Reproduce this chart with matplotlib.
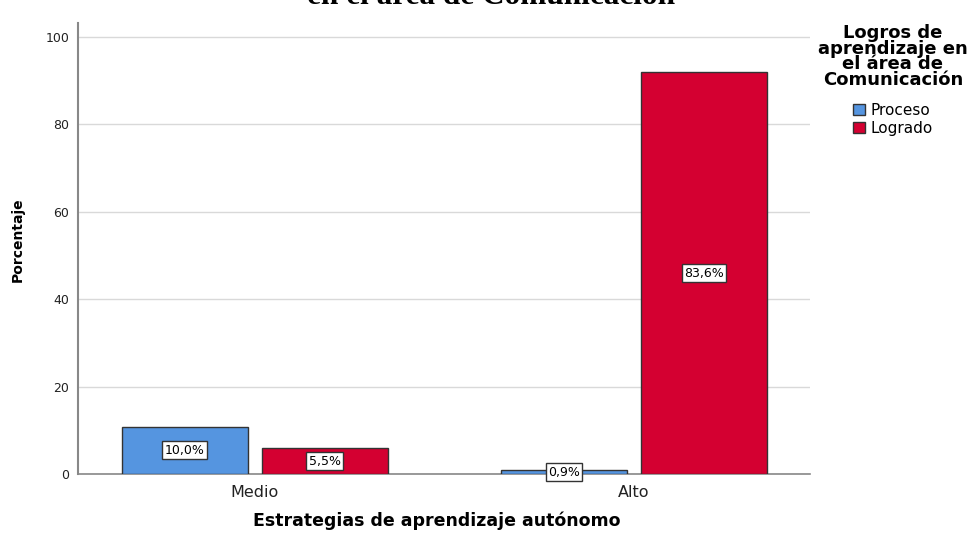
import matplotlib
matplotlib.use("Agg")
import matplotlib.pyplot as plt
import numpy as np

categories = ["Medio", "Alto"]
series_names = ["Proceso", "Logrado"]
proceso_heights = [10.9, 1.0]
logrado_heights = [6.0, 92.0]
proceso_labels = ["10,0%", "0,9%"]
logrado_labels = ["5,5%", "83,6%"]
yticks = [0, 20, 40, 60, 80, 100]

colors = ["#5595e0", "#d40031"]

fig = plt.figure(figsize=(9.67, 5.35), dpi=100)
ax = fig.add_axes([0.0804, 0.1135, 0.7573, 0.843])

x = np.arange(len(categories))
w = 0.3325
off = 0.1847
series = [(proceso_heights, proceso_labels), (logrado_heights, logrado_labels)]
bars_all = []
for i, (h, labs) in enumerate(series):
    pos = x + (off if i else -off)
    bars = ax.bar(pos, h, width=w, color=colors[i], edgecolor="#333333",
                  linewidth=1.0, label=series_names[i], zorder=3)
    bars_all.append(bars)
    for b, lab in zip(bars, labs):
        ax.text(b.get_x() + b.get_width() / 2, b.get_height() / 2, lab,
                ha="center", va="center", fontsize=9, color="black", zorder=5,
                bbox=dict(boxstyle="square,pad=0.2", facecolor="white",
                          edgecolor="#333333", linewidth=1.0))

ax.set_xlim(-0.4675, 1.4646)
ax.set_ylim(0, 103.1)
ax.set_xticks(x)
ax.set_xticklabels(categories, fontsize=11.5, color="#222222")
ax.set_yticks(yticks)
ax.set_yticklabels([str(v) for v in yticks], fontsize=9, color="#222222")
ax.tick_params(axis="both", length=0)
ax.tick_params(axis="x", pad=8)
ax.tick_params(axis="y", pad=6)
ax.grid(axis="y", color="#d9d9d9", linewidth=1.0, zorder=0)
for s in ["top", "right"]:
    ax.spines[s].set_visible(False)
ax.spines["left"].set_color("#888888")
ax.spines["left"].set_linewidth(1.5)
ax.spines["bottom"].set_color("#888888")
ax.spines["bottom"].set_linewidth(1.2)

ax.set_ylabel("Porcentaje", fontsize=10, fontweight="bold")
ax.yaxis.set_label_coords(-0.072, 0.52)
ax.set_xlabel("Estrategias de aprendizaje autónomo", fontsize=12.5, fontweight="bold")
ax.xaxis.set_label_coords(0.49, -0.0836)

fig.text(0.508, 0.9916, "en el área de Comunicación", ha="center", va="baseline",
         fontsize=22.5, fontweight="bold", family="Liberation Serif")

leg = ax.legend(handles=bars_all, labels=series_names, loc="upper center",
                bbox_to_anchor=(893 / 967, 1 - 16 / 535), bbox_transform=fig.transFigure,
                frameon=False, title="Logros de\naprendizaje en\nel área de\nComunicación",
                title_fontproperties={"weight": "bold", "size": 13},
                fontsize=11, handlelength=0.75, handleheight=0.75, handletextpad=0.35,
                labelspacing=0.15, borderpad=0, alignment="center")
leg.get_title().set_linespacing(0.85)
leg.get_title().set_multialignment("center")
leg._legend_box.sep = 10

fig.savefig("out.png", dpi=100)
